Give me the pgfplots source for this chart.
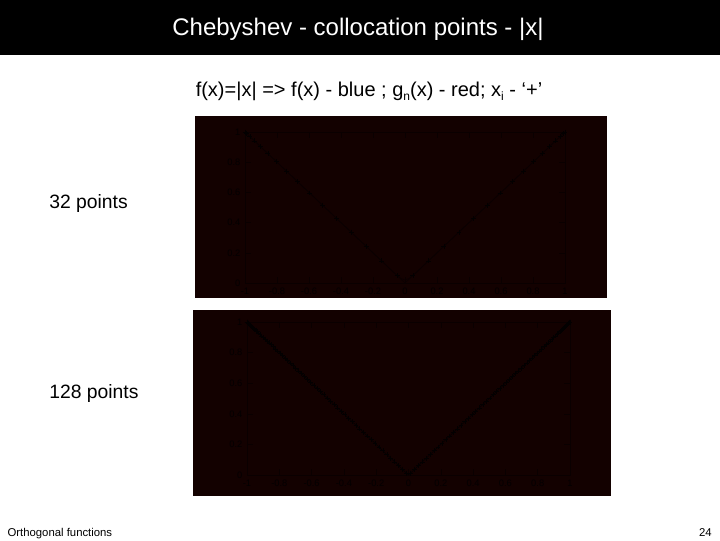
\documentclass[border=0pt]{standalone}
\usepackage{pgfplots}
\pgfplotsset{compat=1.18}
\usepackage{fontspec}
\setmainfont{Liberation Sans}
\definecolor{panel}{RGB}{19,1,0}
\definecolor{ink}{RGB}{3,0,0}
\definecolor{faint}{RGB}{10,0,0}

% 32 Chebyshev nodes, (x, |x|)
\pgfplotstableread{
x y
-0.998795 0.998795
-0.989177 0.989177
-0.970031 0.970031
-0.941544 0.941544
-0.903989 0.903989
-0.857729 0.857729
-0.803208 0.803208
-0.740951 0.740951
-0.671559 0.671559
-0.595699 0.595699
-0.514103 0.514103
-0.427555 0.427555
-0.336890 0.336890
-0.242980 0.242980
-0.146730 0.146730
-0.049068 0.049068
0.049068 0.049068
0.146730 0.146730
0.242980 0.242980
0.336890 0.336890
0.427555 0.427555
0.514103 0.514103
0.595699 0.595699
0.671559 0.671559
0.740951 0.740951
0.803208 0.803208
0.857729 0.857729
0.903989 0.903989
0.941544 0.941544
0.970031 0.970031
0.989177 0.989177
0.998795 0.998795
}\nodesA

% 128 Chebyshev nodes
\pgfplotstableread{
x y
0.99992 0.99992
0.99932 0.99932
0.99812 0.99812
0.99631 0.99631
0.99391 0.99391
0.99091 0.99091
0.98730 0.98730
0.98310 0.98310
0.97832 0.97832
0.97294 0.97294
0.96698 0.96698
0.96043 0.96043
0.95331 0.95331
0.94561 0.94561
0.93734 0.93734
0.92851 0.92851
0.91912 0.91912
0.90917 0.90917
0.89867 0.89867
0.88764 0.88764
0.87607 0.87607
0.86399 0.86399
0.85135 0.85135
0.83823 0.83823
0.82459 0.82459
0.81046 0.81046
0.79585 0.79585
0.78074 0.78074
0.76517 0.76517
0.74914 0.74914
0.73265 0.73265
0.71574 0.71574
0.69842 0.69842
0.68062 0.68062
0.66242 0.66242
0.64383 0.64383
0.62486 0.62486
0.60551 0.60551
0.58580 0.58580
0.56573 0.56573
0.54532 0.54532
0.52459 0.52459
0.50354 0.50354
0.48218 0.48218
0.46054 0.46054
0.43862 0.43862
0.41643 0.41643
0.39399 0.39399
0.37132 0.37132
0.34842 0.34842
0.32531 0.32531
0.30201 0.30201
0.27852 0.27852
0.25487 0.25487
0.23106 0.23106
0.20711 0.20711
0.18304 0.18304
0.15886 0.15886
0.13458 0.13458
0.11022 0.11022
0.08580 0.08580
0.06132 0.06132
0.03681 0.03681
0.01227 0.01227
-0.01227 0.01227
-0.03681 0.03681
-0.06132 0.06132
-0.08580 0.08580
-0.11022 0.11022
-0.13458 0.13458
-0.15886 0.15886
-0.18304 0.18304
-0.20711 0.20711
-0.23106 0.23106
-0.25487 0.25487
-0.27852 0.27852
-0.30201 0.30201
-0.32531 0.32531
-0.34842 0.34842
-0.37132 0.37132
-0.39399 0.39399
-0.41643 0.41643
-0.43862 0.43862
-0.46054 0.46054
-0.48218 0.48218
-0.50354 0.50354
-0.52459 0.52459
-0.54532 0.54532
-0.56573 0.56573
-0.58580 0.58580
-0.60551 0.60551
-0.62486 0.62486
-0.64383 0.64383
-0.66242 0.66242
-0.68062 0.68062
-0.69842 0.69842
-0.71574 0.71574
-0.73265 0.73265
-0.74914 0.74914
-0.76517 0.76517
-0.78074 0.78074
-0.79585 0.79585
-0.81046 0.81046
-0.82459 0.82459
-0.83823 0.83823
-0.85135 0.85135
-0.86399 0.86399
-0.87607 0.87607
-0.88764 0.88764
-0.89867 0.89867
-0.90917 0.90917
-0.91912 0.91912
-0.92851 0.92851
-0.93734 0.93734
-0.94561 0.94561
-0.95331 0.95331
-0.96043 0.96043
-0.96698 0.96698
-0.97294 0.97294
-0.97832 0.97832
-0.98310 0.98310
-0.98730 0.98730
-0.99091 0.99091
-0.99391 0.99391
-0.99631 0.99631
-0.99812 0.99812
-0.99932 0.99932
-0.99992 0.99992
}\nodesB

\pgfplotsset{
  slideaxis/.style={
    scale only axis,
    anchor=south west,
    xmin=-1, xmax=1, ymin=0, ymax=1,
    xtick={-1,-0.8,...,1}, ytick={0,0.2,...,1},
    axis line style={faint},
    every tick/.style={faint},
    tick label style={ink, font=\fontsize{7}{8}\selectfont},
    /pgf/number format/assume math mode=true,
    axis background/.style={fill=panel},
    clip=false,
  }
}

\begin{document}
\begin{tikzpicture}
\fill[white] (0pt,0pt) rectangle (540pt,405pt);
\fill[black] (0pt,363.75pt) rectangle (540pt,405pt);
\node[white, anchor=base, font=\fontsize{18}{20}\selectfont, inner sep=0pt] at (268.5pt,378pt) {Chebyshev - collocation points - |x|};
\node[black, anchor=base, font=\fontsize{15}{17}\selectfont, inner sep=0pt] at (276.75pt,332.25pt) {f(x)=|x| => f(x) - blue ; g\raisebox{-0.35ex}{\fontsize{9}{10}\selectfont n}(x) - red; x\raisebox{-0.35ex}{\fontsize{9}{10}\selectfont i} - ‘+’};
\node[black, anchor=base west, font=\fontsize{14.5}{16}\selectfont, inner sep=0pt] at (36.75pt,249pt) {32 points};
\node[black, anchor=base west, font=\fontsize{14.5}{16}\selectfont, inner sep=0pt] at (36.75pt,106.5pt) {128 points};
\node[black, anchor=base west, font=\fontsize{8.5}{10}\selectfont, inner sep=0pt] at (5.5pt,3pt) {Orthogonal functions};
\node[black, anchor=base east, font=\fontsize{8.5}{10}\selectfont, inner sep=0pt] at (534pt,3pt) {24};
% dark figure panels
\fill[panel] (146.25pt,181.5pt) rectangle (455.25pt,318pt);
\fill[panel] (144.75pt,33pt) rectangle (458.25pt,172.5pt);

\begin{axis}[slideaxis, at={(183.75pt,192.75pt)}, width=240pt, height=113.25pt]
\addplot[faint, thin] coordinates {(-1,1) (0,0) (1,1)};
\addplot[faint, thin, smooth] coordinates {(-1,1) (-0.5,0.5) (-0.146730,0.146730) (-0.049068,0.05) (0,0.02) (0.049068,0.05) (0.146730,0.146730) (0.5,0.5) (1,1)};
\addplot[only marks, mark=+, mark size=1.8pt, ink] table[x=x,y=y] {\nodesA};
\end{axis}

\begin{axis}[slideaxis, at={(185.25pt,48.75pt)}, width=242.25pt, height=114.75pt]
\addplot[ink, thin] coordinates {(-1,1) (0,0) (1,1)};
\addplot[only marks, mark=+, mark size=1.8pt, ink] table[x=x,y=y] {\nodesB};
\end{axis}
\end{tikzpicture}
\end{document}
